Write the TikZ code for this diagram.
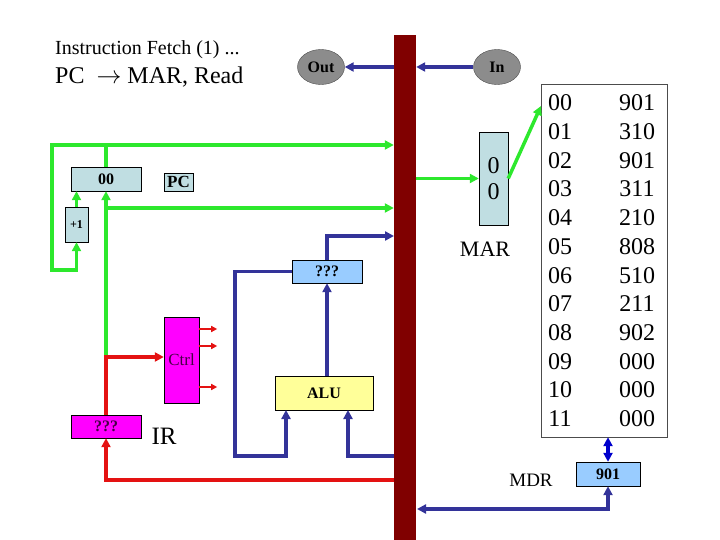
\documentclass[tikz,border=0pt]{standalone}
\usepackage{fontspec}
\setmainfont{Liberation Serif}
\usetikzlibrary{arrows.meta,shapes.geometric}
\definecolor{gline}{RGB}{45,232,45}
\definecolor{nline}{RGB}{51,51,153}
\definecolor{rline}{RGB}{228,18,18}
\definecolor{busred}{RGB}{128,0,0}
\definecolor{regfill}{RGB}{192,222,226}
\definecolor{tmpfill}{RGB}{153,204,255}
\definecolor{alufill}{RGB}{255,255,153}
\definecolor{ctrlfill}{RGB}{255,0,255}
\definecolor{ctrltext}{RGB}{70,0,70}
\newcommand{\fsz}[1]{\fontsize{#1}{#1}\selectfont}
\tikzset{
  >={Triangle[length=9pt,width=9pt]},
  reg/.style={rectangle,draw,inner sep=0pt,font=\fsz{16}\bfseries},
  port/.style={ellipse,draw=black!70,fill=black!45,minimum width=47,minimum height=35,inner sep=0pt,font=\fsz{16}\bfseries},
  big/.style={font=\fsz{#1},inner sep=0pt},
  green wire/.style={draw=gline,line width=3.5pt},
  navy wire/.style={draw=nline,line width=3.5pt},
  red wire/.style={draw=rline,line width=3.5pt},
}
\begin{document}
\begin{tikzpicture}[x=1pt,y=-1pt]
\useasboundingbox (0,0) rectangle (720,540);
\node (title) [big=20,anchor=west] at (55,50) {Instruction Fetch (1) ...};
\node (rtl) [big=24,anchor=west] at (55,77) {PC\ \ $\rightarrow$ MAR, Read};

\node (bus) [fill=busred,inner sep=0pt,minimum width=22,minimum height=505] at (405,287.5) {};
\node (out) [port] at (321,67) {Out};
\node (in) [port] at (497,67) {In};

\node (pc) [reg,fill=regfill,minimum width=70,minimum height=24] at (106,179) {00};
\node (pclbl) [reg,fill=regfill,minimum width=29,minimum height=18,font=\fsz{17}\bfseries] at (178.5,182) {PC};
\node (inc) [reg,fill=regfill,minimum width=23,minimum height=35,font=\fsz{12}\bfseries] at (76.5,224.5) {+1};
\node (ctrl) [reg,fill=ctrlfill,minimum width=35,minimum height=86,font=\fsz{17},text=ctrltext] at (181.5,360) {Ctrl};
\node (ir) [reg,fill=ctrlfill,minimum width=70,minimum height=23,text=ctrltext] at (106,426.5) {???};
\node (irlbl) [big=25] at (164,436) {IR};
\node (tmp) [reg,fill=tmpfill,minimum width=70,minimum height=23] at (327,271.5) {???};
\node (alu) [reg,fill=alufill,minimum width=98,minimum height=34] at (324,393) {ALU};

\node (mar) [reg,fill=regfill,minimum width=29,minimum height=93,font=\fsz{24},align=center] at (493.5,178.5) {0\\[2pt]0};
\node (marlbl) [big=22] at (485,249) {MAR};
\node (mem) [rectangle,draw=black!70,minimum width=126,minimum height=353,inner sep=0pt] at (604,260.5) {};
\foreach \a/\v [count=\i from 0] in {00/901,01/310,02/901,03/311,04/210,05/808,06/510,07/211,08/902,09/000,10/000,11/000}{
  \node (adr\i) [big=24] at (560,103+28.7*\i) {\a};
  \node (val\i) [big=24] at (637,103+28.7*\i) {\v};
}
\node (mdr) [reg,fill=tmpfill,minimum width=64,minimum height=24] at (608,474) {901};
\node (mdrlbl) [big=19] at (531,480) {MDR};

\coordinate (top) at (52,145);
\coordinate (split) at (106,357);
\coordinate (pcbus) at (106,208);
\coordinate (tmpbus) at (394,236);
\coordinate (irbus) at (394,480);
\coordinate (alubus) at (394,456);
\coordinate (aluA) at (286,410);
\coordinate (aluB) at (348,410);
\coordinate (loop) at (235,456);
\coordinate (mdrbus) at (417,509);
\coordinate (m00) at (541,106);

\draw [green wire,<->] (bus.west |- top) -- (top) -- ++(0,125) -| (inc.south);
\draw [green wire] (pc.north) -- (pc.north |- top);
\draw [green wire,->] (inc.north) -- (inc.north |- pc.south);
\draw [green wire,->] (split) -- (pc.south);
\draw [green wire,->] (pcbus) -- (bus.west |- pcbus);
\draw [green wire,->] (bus.east |- mar) -- (mar.west);
\draw [green wire,->] (mar.east) -- (m00);

\draw [red wire,->] (ir.north) -- (split) -- (ctrl.west |- split);
\draw [red wire,->] (irbus) -| (ir.south);
\foreach \y in {329,346,387}
  \draw [draw=rline,line width=2pt,-{Triangle[length=6pt,width=6pt]}] (ctrl.east |- 0,\y) -- ++(18,0);

\draw [navy wire,->] (bus.west |- out) -- (out.east);
\draw [navy wire,->] (in.west) -- (bus.east |- in);
\draw [navy wire,->] (tmp.north) |- (tmpbus);
\draw [navy wire,->] (tmp.south |- alu.north) -- (tmp.south);
\draw [navy wire,->] (tmp.west) -| (loop) -| (aluA);
\draw [navy wire,->] (alubus) -| (aluB);
\draw [draw=blue!80!black,line width=3.5pt,<->] (mem.south -| mdr) -- (mdr.north);
\draw [navy wire,<->] (mdr.south) |- (mdrbus);
\end{tikzpicture}
\end{document}
